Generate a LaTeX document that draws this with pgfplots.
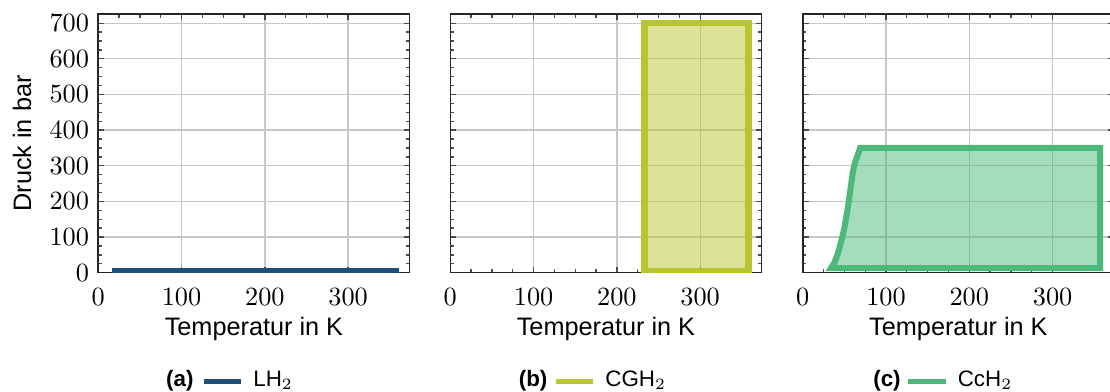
\documentclass[border=0pt]{standalone}
\usepackage{fontspec}
\setmainfont{Liberation Sans}
\usepackage{pgfplots}
\pgfplotsset{compat=1.18}
\definecolor{lhblue}{RGB}{31,78,121}
\definecolor{cgyellow}{RGB}{185,197,48}
\definecolor{ccgreen}{RGB}{76,185,122}
\tikzset{capnode/.style={anchor=west, inner sep=0pt, font=\fontsize{8.5}{10}\selectfont\bfseries}}
\pgfplotsset{
  panel/.style={
    scale only axis, width=118.3pt, height=98.2pt,
    anchor=south west,
    xmin=0, xmax=373.8, ymin=0, ymax=725,
    xtick={0,100,200,300}, ytick={0,100,...,700},
    minor x tick num=3, minor y tick num=3,
    major tick length=2.2pt, minor tick length=1.3pt,
    grid=major, major grid style={black!22, line width=0.5pt},
    axis line style={black!85, line width=0.6pt},
    tick style={black!70, line width=0.5pt},
    clip mode=individual,
    xlabel={Temperatur in K},
    xlabel style={at={(axis description cs:0.5,-0.218)}, anchor=center, font=\fontsize{9.6}{11}\selectfont},
    xticklabel style={anchor=center, yshift=-9.2pt},
    legend style={draw=none, fill=none, inner sep=0pt, outer sep=0pt,
      at={(axis description cs:0.3304,-0.4195)}, anchor=west,
      nodes={inner sep=0pt}, font=\fontsize{8.5}{10}\selectfont,
      /tikz/every odd column/.append style={column sep=3.7pt}},
    legend image code/.code={\draw[line width=1.9pt] (0pt,0pt) -- (14.25pt,0pt);},
  },
}
\begin{document}
\begin{tikzpicture}
\clip (0,0) rectangle (421.8pt,148.96pt);
% (a)
\begin{axis}[panel, at={(37.35pt,45.33pt)},
  ylabel={Druck in bar},
  ylabel style={at={(axis description cs:-0.245,0.5)}, anchor=center, font=\fontsize{9.6}{11}\selectfont}]
\addplot[lhblue, line width=2.2pt] coordinates {(16.5,6) (361.5,6)};
\addlegendentry{LH$_2$}
\node[capnode] at (axis description cs:0.2164,-0.4195) {(a)};
\end{axis}
% (b)
\begin{axis}[panel, at={(171.11pt,45.33pt)}, yticklabels={}]
\addplot[cgyellow, line width=2.5pt, fill=cgyellow, fill opacity=0.5]
  coordinates {(233,5) (358,5) (358,700) (233,700)} -- cycle;
\addlegendentry{CGH$_2$}
\node[capnode] at (axis description cs:0.2185,-0.4195) {(b)};
\end{axis}
% (c)
\begin{axis}[panel, at={(305.03pt,45.33pt)}, yticklabels={}]
\addplot[ccgreen, line width=2.3pt, fill=ccgreen, fill opacity=0.5]
  coordinates {(34,13) (38,28) (42,52) (46,85) (50,125) (54,180) (58,245) (60,280) (62,303) (69,350) (357,350) (357,13)} -- cycle;
\addlegendentry{CcH$_2$}
\node[capnode] at (axis description cs:0.225,-0.4195) {(c)};
\end{axis}
\end{tikzpicture}
\end{document}
